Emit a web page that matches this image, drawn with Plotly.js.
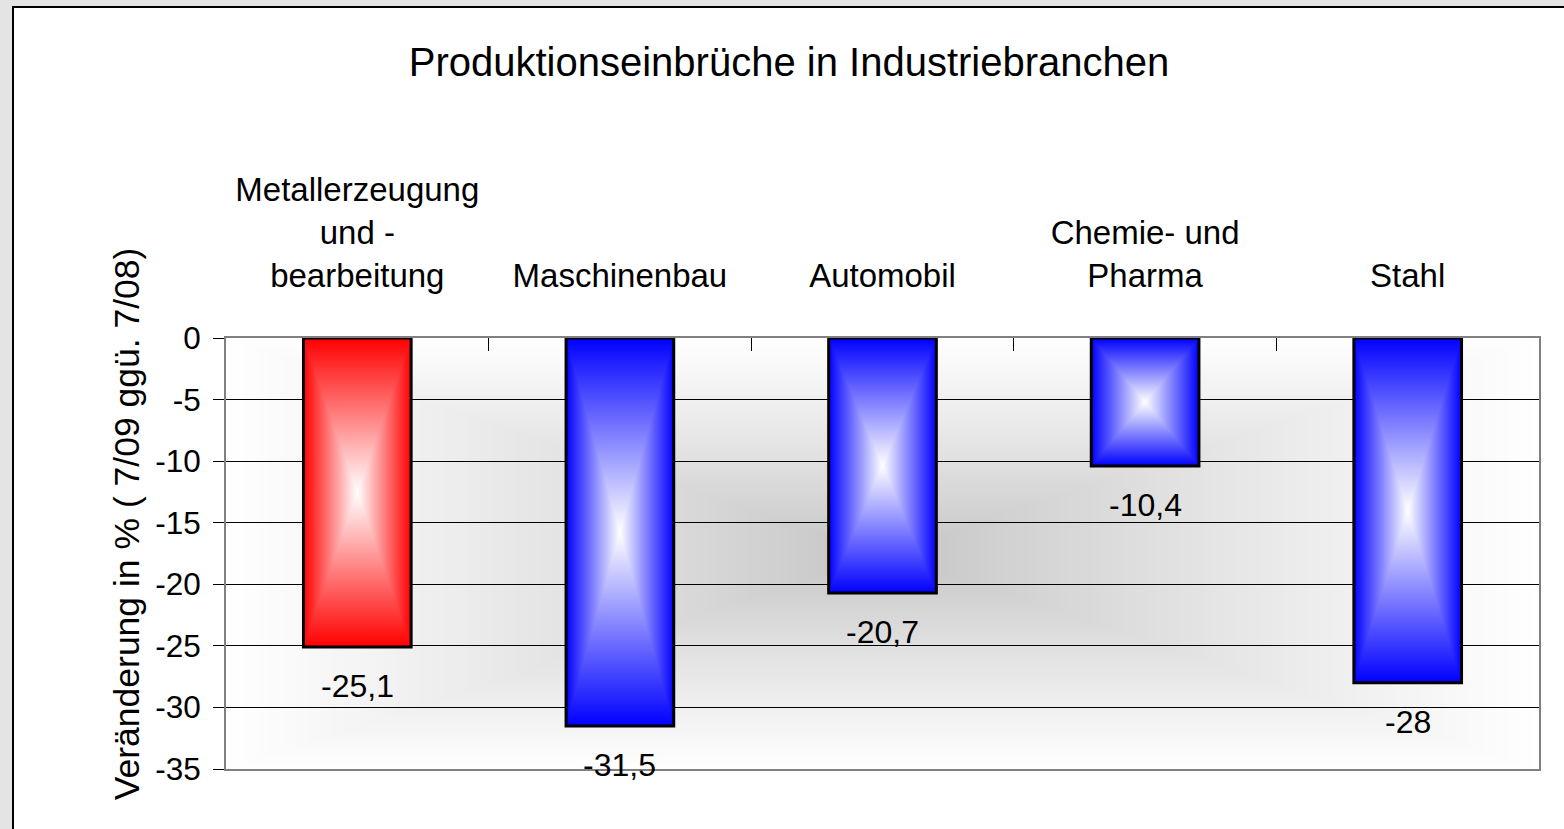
<!DOCTYPE html>
<html><head><meta charset="utf-8">
<script src="https://cdn.plot.ly/plotly-3.0.1.min.js"></script>
<style>
html,body{margin:0;padding:0;background:#e4e4e4;overflow:hidden;width:1564px;height:829px}
#frame{position:absolute;left:12px;top:6px;width:1560px;height:830px;border-left:2px solid #000;border-top:2px solid #000;background:#fff}
#chart{width:1550px;height:821px}
</style></head><body>
<div id="frame"><div id="chart"></div></div>
<script>
// ---- data ----
const categories = ['Metallerzeugung<br>und -<br>bearbeitung', 'Maschinenbau', 'Automobil', 'Chemie- und<br>Pharma', 'Stahl'];
const values = [-25.1, -31.5, -20.7, -10.4, -28];
const barColors = ['#ff0000', '#0000ff', '#0000ff', '#0000ff', '#0000ff'];
const yTickVals = [0, -5, -10, -15, -20, -25, -30, -35];
const yTickText = ['0', '-5', '-10', '-15', '-20', '-25', '-30', '-35'];
const chartTitle = 'Produktionseinbrüche in Industriebranchen';
const yTitle = 'Veränderung in % ( 7/09 ggü. 7/08)';

const FONT = 'Liberation Sans, Arial, sans-serif';

function fmt(v){ return String(v).replace('.', ','); }

// rectangular "from center" gray background, generated as an image
function bgImage(){
  const w = 600, h = 200;
  const c = document.createElement('canvas'); c.width = w; c.height = h;
  const ctx = c.getContext('2d');
  const img = ctx.createImageData(w, h);
  for (let y = 0; y < h; y++){
    for (let x = 0; x < w; x++){
      const u = Math.abs((x + 0.5) / w * 2 - 1);
      const v = Math.abs((y + 0.5) / h * 2 - 1);
      const t = Math.max(u, v);
      const g = Math.round(195 + 60 * Math.pow(t, 0.85));
      const i = (y * w + x) * 4;
      img.data[i] = g; img.data[i+1] = g; img.data[i+2] = g; img.data[i+3] = 255;
    }
  }
  ctx.putImageData(img, 0, 0);
  return c.toDataURL();
}

const trace = {
  type: 'bar',
  x: categories,
  y: values,
  width: 0.41,
  marker: { color: barColors, line: { color: '#000', width: 3 } },
  hoverinfo: 'skip'
};

const annotations = categories.map((c, i) => ({
  x: c, y: values[i], xref: 'x', yref: 'y',
  text: fmt(values[i]), showarrow: false,
  yanchor: 'middle', yshift: -39,
  font: { family: FONT, size: 32, color: '#000' }
}));

// y axis title as a rotated annotation, so it can sit where the original has it
annotations.push({
  text: yTitle, textangle: -90, showarrow: false,
  xref: 'paper', yref: 'paper', x: -0.0755, y: 0.57,
  xanchor: 'center', yanchor: 'middle',
  font: { family: FONT, size: 35.5, color: '#000' }
});

const layout = {
  width: 1550, height: 821,
  margin: { l: 212, r: 25, t: 330, b: 60 },
  paper_bgcolor: '#fff',
  plot_bgcolor: 'rgba(0,0,0,0)',
  font: { family: FONT, color: '#000', size: 31 },
  showlegend: false,
  title: { text: chartTitle, font: { family: FONT, size: 40, color: '#000' },
           x: 0.5, xref: 'container', xanchor: 'center', y: 0.934, yref: 'container', yanchor: 'middle' },
  xaxis: {
    type: 'category', side: 'top',
    showline: true, linecolor: '#808080', linewidth: 2, mirror: true,
    ticks: 'inside', tickson: 'boundaries', ticklen: 13, tickcolor: '#000', tickwidth: 1,
    ticklabelstandoff: 36,
    showgrid: false, zeroline: false,
    tickfont: { family: FONT, size: 33, color: '#000' }
  },
  yaxis: {
    range: [-35, 0],
    tickvals: yTickVals, ticktext: yTickText,
    ticks: 'outside', ticklen: 11, tickcolor: '#000', tickwidth: 1,
    ticklabelstandoff: 6,
    showline: true, linecolor: '#808080', linewidth: 2, mirror: true,
    showgrid: true, gridcolor: '#000', gridwidth: 1,
    zeroline: false,
    tickfont: { family: FONT, size: 31.5, color: '#000' }
  },
  images: [{ source: bgImage(), xref: 'paper', yref: 'paper', x: 0, y: 1, sizex: 1, sizey: 1,
             xanchor: 'left', yanchor: 'top', sizing: 'stretch', layer: 'below' }],
  annotations: annotations
};

function applyGradients(gd){
  const ns = 'http://www.w3.org/2000/svg';
  const svg = gd.querySelector('svg.main-svg');
  const defs = document.createElementNS(ns, 'defs');
  svg.insertBefore(defs, svg.firstChild);
  function lg(id, x1, y1, x2, y2, col){
    const g = document.createElementNS(ns, 'linearGradient');
    g.setAttribute('id', id);
    g.setAttribute('x1', x1); g.setAttribute('y1', y1); g.setAttribute('x2', x2); g.setAttribute('y2', y2);
    [[0, col], [1, '#ffffff']].forEach(([o, c]) => {
      const s = document.createElementNS(ns, 'stop');
      s.setAttribute('offset', o); s.setAttribute('stop-color', c);
      g.appendChild(s);
    });
    defs.appendChild(g);
  }
  const paths = gd.querySelectorAll('.barlayer .point path');
  paths.forEach((p, i) => {
    const col = barColors[i];
    const k = 'bg' + i;
    lg(k + 'T', 0, 0, 0, 1, col);
    lg(k + 'B', 0, 1, 0, 0, col);
    lg(k + 'L', 0, 0, 1, 0, col);
    lg(k + 'R', 1, 0, 0, 0, col);
    const pat = document.createElementNS(ns, 'pattern');
    pat.setAttribute('id', k + 'P');
    pat.setAttribute('patternUnits', 'objectBoundingBox');
    pat.setAttribute('patternContentUnits', 'objectBoundingBox');
    pat.setAttribute('x', 0); pat.setAttribute('y', 0);
    pat.setAttribute('width', 1); pat.setAttribute('height', 1);
    const polys = [['0,0 1,0 0.5,0.5', 'T'], ['0,1 1,1 0.5,0.5', 'B'], ['0,0 0,1 0.5,0.5', 'L'], ['1,0 1,1 0.5,0.5', 'R']];
    polys.forEach(([pts, s]) => {
      const pg = document.createElementNS(ns, 'polygon');
      pg.setAttribute('points', pts);
      pg.setAttribute('fill', 'url(#' + k + s + ')');
      pg.setAttribute('shape-rendering', 'crispEdges');
      pat.appendChild(pg);
    });
    defs.appendChild(pat);
    p.style.fill = 'url(#' + k + 'P)';
  });
}

Plotly.newPlot('chart', [trace], layout, { staticPlot: true }).then(applyGradients);
</script>
</body></html>
